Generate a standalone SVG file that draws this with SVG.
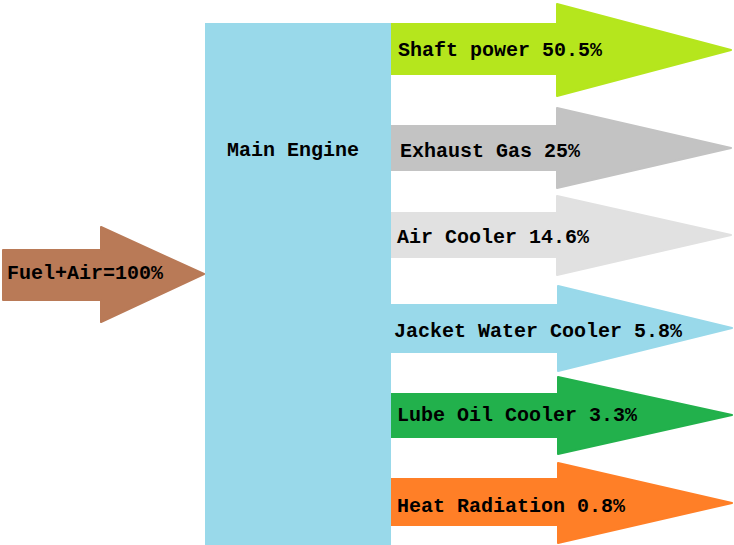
<svg xmlns="http://www.w3.org/2000/svg" width="734" height="545" viewBox="0 0 734 545">
  <style>
    text { font-family: "Liberation Mono", "DejaVu Sans Mono", monospace; font-size: 20px; font-weight: bold; fill: #000; }
    .arrow { stroke-linejoin: round; stroke-width: 2; }
  </style>
  <rect width="734" height="545" fill="#ffffff"/>

  <!-- energy flows leaving the engine -->
  <g id="connectors">
    <g id="fuel">
      <polygon class="arrow" fill="#B97A57" stroke="#B97A57" points="3,250 101,250 101,227 204,274 101,322 101,300 3,300"/>
      <text x="7" y="279">Fuel+Air=100%</text>
    </g>
    <g id="shaft">
      <polygon class="arrow" fill="#B5E61D" stroke="#B5E61D" points="391,24 557,24 557,4 731,50 557,96 557,74 391,74"/>
      <text x="398" y="56">Shaft power 50.5%</text>
    </g>
    <g id="exhaust">
      <polygon class="arrow" fill="#C3C3C3" stroke="#C3C3C3" points="391,126 557,126 557,108 731,148 557,188 557,170 391,170"/>
      <text x="400" y="157">Exhaust Gas 25%</text>
    </g>
    <g id="aircooler">
      <polygon class="arrow" fill="#E1E1E1" stroke="#E1E1E1" points="391,213 557,213 557,196 731,235 557,275 557,257 391,257"/>
      <text x="397" y="243">Air Cooler 14.6%</text>
    </g>
    <g id="jacket">
      <polygon class="arrow" fill="#99D9EA" stroke="#99D9EA" points="391,305 558,305 558,286 732,328 558,371 558,352 391,352"/>
      <text x="394" y="337">Jacket Water Cooler 5.8%</text>
    </g>
    <g id="lubeoil">
      <polygon class="arrow" fill="#22B14C" stroke="#22B14C" points="391,394 558,394 558,377 732,415 558,454 558,437 391,437"/>
      <text x="397" y="421">Lube Oil Cooler 3.3%</text>
    </g>
    <g id="radiation">
      <polygon class="arrow" fill="#FF7F27" stroke="#FF7F27" points="391,479 558,479 558,463 732,503 558,543 558,525 391,525"/>
      <text x="397" y="512">Heat Radiation 0.8%</text>
    </g>
  </g>

  <g id="engine">
    <rect x="205" y="23" width="186" height="522" fill="#99D9EA"/>
    <text x="227" y="156">Main Engine</text>
  </g>
</svg>
